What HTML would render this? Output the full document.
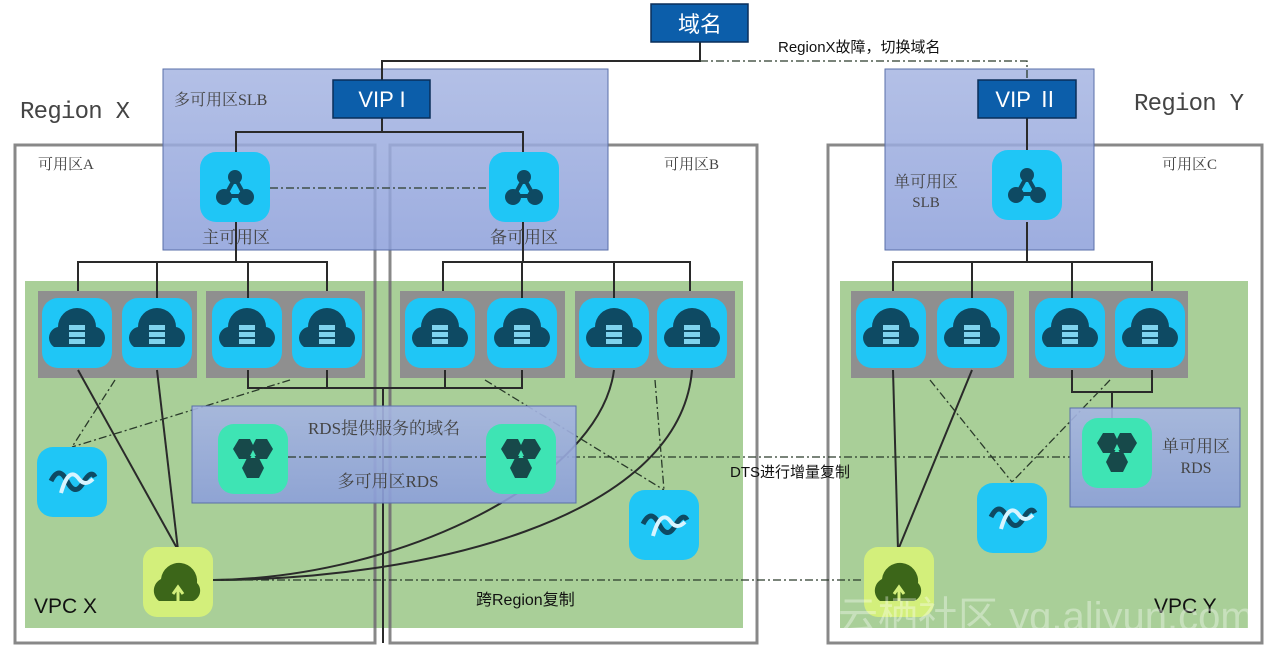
<!DOCTYPE html>
<html><head><meta charset="utf-8"><style>
html,body{margin:0;padding:0;background:#fff;}
svg{display:block;}
text{font-family:"Liberation Serif","Noto Serif CJK SC",serif;}
.s{font-family:"Liberation Sans","Noto Sans CJK SC",sans-serif;}
</style></head><body>
<svg width="1267" height="645" viewBox="0 0 1267 645" xmlns="http://www.w3.org/2000/svg">
<defs>
<linearGradient id="bg" x1="0" y1="0" x2="0" y2="1">
<stop offset="0" stop-color="#a6b5e2"/><stop offset="1" stop-color="#8c9fda"/>
</linearGradient>
<g id="srv">
<rect x="0" y="0" width="70" height="70" rx="16" fill="#1fc6f6"/>
<path d="M12,49 a11,11 0 0 1 4,-20 a19,19 0 0 1 38,0 a11,11 0 0 1 4,20 z" fill="#0e4a63"/>
<rect x="27" y="27" width="16" height="5" fill="#7fd3ee"/>
<rect x="27" y="34" width="16" height="5" fill="#7fd3ee"/>
<rect x="27" y="41" width="16" height="5" fill="#7fd3ee"/>
</g>
<g id="slb">
<rect x="0" y="0" width="70" height="70" rx="16" fill="#1fc6f6"/>
<path d="M35,26 L25,44 L45,44 Z" fill="none" stroke="#0e4a63" stroke-width="4"/>
<circle cx="35" cy="25" r="7" fill="#0e4a63"/>
<circle cx="24" cy="45" r="8" fill="#0e4a63"/>
<circle cx="46" cy="45" r="8" fill="#0e4a63"/>
</g>
<g id="rds">
<rect x="0" y="0" width="70" height="70" rx="16" fill="#3ee4b4"/>
<polygon points="15,25 21,15 32,15 37,25 32,35 21,35" fill="#17494a"/>
<polygon points="33,25 38,15 49,15 55,25 49,35 38,35" fill="#17494a"/>
<polygon points="24,44 29,34 41,34 46,44 41,54 29,54" fill="#17494a"/>
<polygon points="35,26 32,32 38,32" fill="#3ee4b4"/>
</g>
<g id="wav">
<rect x="0" y="0" width="70" height="70" rx="16" fill="#1fc6f6"/>
<path d="M14,34 q8,-16 16,0 t16,2 t12,-6" fill="none" stroke="#0e4a63" stroke-width="5"/>
<path d="M24,46 q8,-28 18,-14 q6,8 14,0" fill="none" stroke="#d8f4ff" stroke-width="4"/>
</g>
<g id="oss">
<rect x="0" y="0" width="70" height="70" rx="14" fill="#d3ef7b"/>
<path d="M16,54 a13,13 0 0 1 2,-22 a18,18 0 0 1 36,4 a11,11 0 0 1 -4,18 z" fill="#3c6619"/>
<path d="M35,58 L35,42 M30,47 L35,40 L40,47" stroke="#d3ef7b" stroke-width="3" fill="none"/>
</g>
</defs>

<rect x="15" y="145" width="360" height="498" fill="none" stroke="#888" stroke-width="3"/>
<rect x="390" y="145" width="367" height="498" fill="none" stroke="#888" stroke-width="3"/>
<rect x="828" y="145" width="434" height="498" fill="none" stroke="#888" stroke-width="3"/>

<rect x="25" y="281" width="718" height="347" fill="#a9cf98"/>
<rect x="840" y="281" width="408" height="347" fill="#a9cf98"/>
<line x1="375" y1="281" x2="375" y2="628" stroke="#777" stroke-width="3"/>
<line x1="390" y1="281" x2="390" y2="628" stroke="#777" stroke-width="3"/>

<rect x="163" y="69" width="445" height="181" fill="url(#bg)" fill-opacity="0.85" stroke="#5a6fa8"/>
<rect x="885" y="69" width="209" height="181" fill="url(#bg)" fill-opacity="0.85" stroke="#5a6fa8"/>

<rect x="38" y="291" width="159" height="87" fill="#8f8f8f"/>
<rect x="206" y="291" width="159" height="87" fill="#8f8f8f"/>
<rect x="400" y="291" width="165" height="87" fill="#8f8f8f"/>
<rect x="575" y="291" width="160" height="87" fill="#8f8f8f"/>
<rect x="851" y="291" width="163" height="87" fill="#8f8f8f"/>
<rect x="1029" y="291" width="159" height="87" fill="#8f8f8f"/>

<g stroke="#2a2a2a" stroke-width="2" fill="none">
<polyline points="700,42 700,61 382,61 382,80"/>
<polyline points="382,118 382,132 236,132 236,152"/>
<polyline points="382,132 523,132 523,152"/>
<line x1="236" y1="222" x2="236" y2="262"/>
<polyline points="78,291 78,262 327,262 327,291"/>
<line x1="157" y1="262" x2="157" y2="300"/>
<line x1="248" y1="262" x2="248" y2="300"/>
<line x1="523" y1="222" x2="523" y2="262"/>
<polyline points="443,291 443,262 690,262 690,291"/>
<line x1="522" y1="262" x2="522" y2="300"/>
<line x1="614" y1="262" x2="614" y2="300"/>
<line x1="1027" y1="118" x2="1027" y2="150"/>
<line x1="1027" y1="222" x2="1027" y2="262"/>
<polyline points="893,291 893,262 1152,262 1152,291"/>
<line x1="972" y1="262" x2="972" y2="300"/>
<line x1="1072" y1="262" x2="1072" y2="300"/>
<polyline points="248,370 248,388 522,388 522,370"/>
<line x1="327" y1="370" x2="327" y2="388"/>
<line x1="445" y1="370" x2="445" y2="388"/>
<line x1="383" y1="388" x2="383" y2="643"/>
<polyline points="1072,370 1072,392 1152,392 1152,370"/>
<line x1="1112" y1="392" x2="1112" y2="420"/>
<line x1="78" y1="370" x2="178" y2="550"/>
<line x1="157" y1="370" x2="178" y2="550"/>
<path d="M213,580 C400,578 600,480 614,370"/>
<path d="M213,580 C420,580 680,520 692,370"/>
<line x1="893" y1="370" x2="898" y2="550"/>
<line x1="972" y1="370" x2="898" y2="550"/>
</g>

<g stroke="#2a3a2a" stroke-width="1.3" fill="none" stroke-dasharray="8,3,2,3">
<polyline points="700,61 1027,61 1027,80"/>
<line x1="270" y1="188" x2="489" y2="188"/>
<line x1="556" y1="457" x2="1070" y2="457"/>
<line x1="213" y1="580" x2="864" y2="580"/>
<line x1="115" y1="380" x2="72" y2="447"/>
<line x1="290" y1="380" x2="72" y2="447"/>
<line x1="485" y1="380" x2="664" y2="490"/>
<line x1="655" y1="380" x2="664" y2="490"/>
<line x1="930" y1="380" x2="1012" y2="482"/>
<line x1="1110" y1="380" x2="1012" y2="482"/>
</g>

<rect x="192" y="406" width="384" height="97" fill="url(#bg)" fill-opacity="0.9" stroke="#5a6fa8"/>
<rect x="1070" y="408" width="170" height="99" fill="url(#bg)" fill-opacity="0.9" stroke="#5a6fa8"/>
<line x1="288" y1="457" x2="486" y2="457" stroke="#2a3a2a" stroke-width="1.3" stroke-dasharray="8,3,2,3"/>

<use href="#slb" x="200" y="152"/>
<use href="#slb" x="489" y="152"/>
<use href="#slb" x="992" y="150"/>
<use href="#srv" x="42" y="298"/><use href="#srv" x="122" y="298"/>
<use href="#srv" x="212" y="298"/><use href="#srv" x="292" y="298"/>
<use href="#srv" x="405" y="298"/><use href="#srv" x="487" y="298"/>
<use href="#srv" x="579" y="298"/><use href="#srv" x="657" y="298"/>
<use href="#srv" x="856" y="298"/><use href="#srv" x="937" y="298"/>
<use href="#srv" x="1035" y="298"/><use href="#srv" x="1115" y="298"/>
<use href="#rds" x="218" y="424"/>
<use href="#rds" x="486" y="424"/>
<use href="#rds" x="1082" y="418"/>
<use href="#wav" x="37" y="447"/>
<use href="#wav" x="629" y="490"/>
<use href="#wav" x="977" y="483"/>
<use href="#oss" x="143" y="547"/>
<use href="#oss" x="864" y="547"/>

<rect x="651" y="4" width="97" height="38" fill="#0c5eaa" stroke="#0a2f5a" stroke-width="1.5"/>
<text x="700" y="32" font-size="22" fill="#fff" text-anchor="middle" class="s">域名</text>
<rect x="333" y="80" width="97" height="38" fill="#0c5eaa" stroke="#0a2f5a" stroke-width="1.5"/>
<text x="382" y="107" font-size="22" fill="#fff" text-anchor="middle" class="s">VIP I</text>
<rect x="978" y="80" width="98" height="38" fill="#0c5eaa" stroke="#0a2f5a" stroke-width="1.5"/>
<text x="1027" y="107" font-size="22" fill="#fff" text-anchor="middle" class="s">VIP Ⅱ</text>

<text x="778" y="52" font-size="15" fill="#111" class="s">RegionX故障，切换域名</text>
<text x="20" y="118" font-size="24" fill="#444" style="font-family:'Liberation Mono',monospace" textLength="110">Region X</text>
<text x="1134" y="110" font-size="24" fill="#444" style="font-family:'Liberation Mono',monospace" textLength="110">Region Y</text>
<text x="174" y="105" font-size="16" fill="#444">多可用区SLB</text>
<text x="38" y="169" font-size="15" fill="#444">可用区A</text>
<text x="664" y="169" font-size="15" fill="#444">可用区B</text>
<text x="1162" y="169" font-size="15" fill="#444">可用区C</text>
<text x="236" y="243" font-size="17" fill="#444" text-anchor="middle">主可用区</text>
<text x="524" y="243" font-size="17" fill="#444" text-anchor="middle">备可用区</text>
<text x="926" y="187" font-size="16" fill="#444" text-anchor="middle">单可用区</text>
<text x="926" y="207" font-size="15" fill="#444" text-anchor="middle">SLB</text>
<text x="384" y="434" font-size="17" fill="#444" text-anchor="middle">RDS提供服务的域名</text>
<text x="388" y="487" font-size="17" fill="#444" text-anchor="middle">多可用区RDS</text>
<text x="1196" y="452" font-size="17" fill="#444" text-anchor="middle">单可用区</text>
<text x="1196" y="473" font-size="16" fill="#444" text-anchor="middle">RDS</text>
<text x="730" y="477" font-size="15" fill="#111" class="s">DTS进行增量复制</text>
<text x="476" y="605" font-size="16" fill="#111" class="s">跨Region复制</text>
<text x="34" y="613" font-size="21" fill="#111" class="s">VPC X</text>
<text x="1154" y="613" font-size="21" fill="#111" class="s">VPC Y</text>
<text x="838" y="630" font-size="40" fill="#fff" fill-opacity="0.35" class="s">云栖社区 yq.aliyun.com</text>
</svg>
</body></html>
